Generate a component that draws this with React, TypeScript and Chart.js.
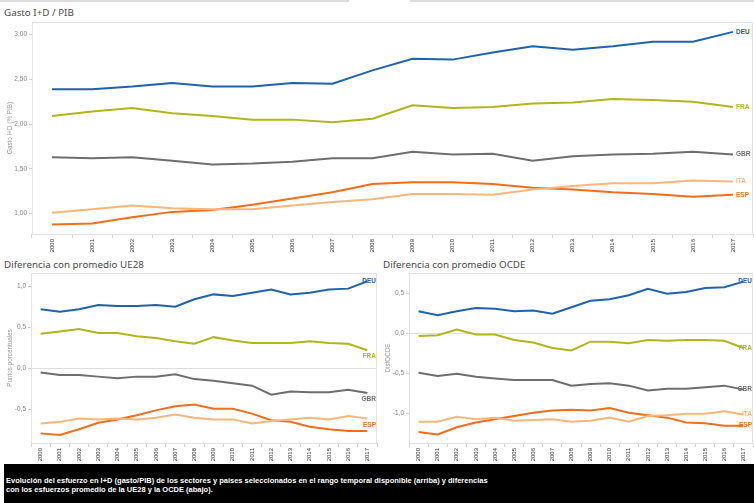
import React, { useEffect, useRef } from "react";
import { Chart, registerables } from "chart.js";

Chart.register(...registerables);

const years = ["2000", "2001", "2002", "2003", "2004", "2005", "2006", "2007", "2008", "2009", "2010", "2011", "2012", "2013", "2014", "2015", "2016", "2017"];

const gastoDEU = [2.39, 2.39, 2.42, 2.46, 2.42, 2.42, 2.46, 2.45, 2.6, 2.73, 2.72, 2.8, 2.87, 2.83, 2.87, 2.92, 2.92, 3.03];
const gastoFRA = [2.09, 2.14, 2.18, 2.12, 2.09, 2.05, 2.05, 2.02, 2.06, 2.21, 2.18, 2.19, 2.23, 2.24, 2.28, 2.27, 2.25, 2.19];
const gastoGBR = [1.63, 1.62, 1.63, 1.59, 1.55, 1.56, 1.58, 1.62, 1.62, 1.69, 1.66, 1.67, 1.59, 1.64, 1.66, 1.67, 1.69, 1.66];
const gastoITA = [1.01, 1.05, 1.09, 1.06, 1.05, 1.05, 1.09, 1.13, 1.16, 1.22, 1.22, 1.21, 1.27, 1.31, 1.34, 1.34, 1.37, 1.36];
const gastoESP = [0.88, 0.89, 0.96, 1.02, 1.04, 1.1, 1.17, 1.24, 1.33, 1.35, 1.35, 1.33, 1.29, 1.27, 1.24, 1.22, 1.19, 1.21];

const ue28DEU = [0.72, 0.69, 0.72, 0.77, 0.76, 0.76, 0.77, 0.75, 0.84, 0.9, 0.88, 0.92, 0.96, 0.9, 0.92, 0.96, 0.97, 1.06];
const ue28FRA = [0.42, 0.45, 0.48, 0.43, 0.43, 0.39, 0.37, 0.33, 0.3, 0.38, 0.34, 0.31, 0.31, 0.31, 0.33, 0.31, 0.3, 0.22];
const ue28GBR = [-0.05, -0.08, -0.08, -0.1, -0.12, -0.1, -0.1, -0.07, -0.13, -0.15, -0.18, -0.21, -0.32, -0.28, -0.29, -0.29, -0.26, -0.3];
const ue28ITA = [-0.67, -0.65, -0.61, -0.62, -0.61, -0.62, -0.6, -0.56, -0.6, -0.62, -0.62, -0.67, -0.64, -0.62, -0.6, -0.62, -0.58, -0.61];
const ue28ESP = [-0.79, -0.81, -0.74, -0.66, -0.62, -0.57, -0.51, -0.46, -0.44, -0.49, -0.49, -0.55, -0.63, -0.65, -0.71, -0.74, -0.76, -0.76];

const ocdeDEU = [0.28, 0.23, 0.28, 0.32, 0.31, 0.28, 0.29, 0.25, 0.33, 0.41, 0.43, 0.48, 0.56, 0.5, 0.52, 0.57, 0.58, 0.65];
const ocdeFRA = [-0.03, -0.02, 0.05, -0.01, -0.01, -0.08, -0.11, -0.18, -0.21, -0.1, -0.1, -0.12, -0.08, -0.09, -0.08, -0.08, -0.09, -0.18];
const ocdeGBR = [-0.49, -0.53, -0.5, -0.54, -0.56, -0.58, -0.58, -0.58, -0.65, -0.63, -0.62, -0.65, -0.71, -0.69, -0.69, -0.67, -0.65, -0.7];
const ocdeITA = [-1.1, -1.1, -1.04, -1.07, -1.05, -1.09, -1.08, -1.07, -1.1, -1.09, -1.05, -1.1, -1.03, -1.02, -1.0, -1.0, -0.97, -1.01];
const ocdeESP = [-1.23, -1.26, -1.17, -1.11, -1.07, -1.03, -0.99, -0.96, -0.95, -0.96, -0.93, -0.99, -1.02, -1.05, -1.11, -1.12, -1.15, -1.15];

const gastoTicks = [1, 1.5, 2, 2.5, 3];
const ue28Ticks = [-0.5, 0, 0.5, 1];
const ocdeTicks = [-1, -0.5, 0, 0.5];

const COLORS: Record<string, string> = {
  DEU: "#1f62ad",
  FRA: "#b3b51d",
  GBR: "#6e6e6e",
  ITA: "#fbb679",
  ESP: "#f26d1c",
};

const TICK_FONT = "'Liberation Sans', Arial, sans-serif";
const TITLE_FONT = "'Noto Sans', 'Open Sans', sans-serif";

function makeSets(deu: number[], fra: number[], gbr: number[], ita: number[], esp: number[]) {
  const rows: [string, number[]][] = [
    ["ITA", ita],
    ["ESP", esp],
    ["GBR", gbr],
    ["FRA", fra],
    ["DEU", deu],
  ];
  return rows.map(([label, data]) => ({
    label,
    data,
    borderColor: COLORS[label],
    backgroundColor: COLORS[label],
    borderWidth: 2,
    pointRadius: 0,
    tension: 0,
    fill: false,
  }));
}

const endLabels = {
  id: "endLabels",
  afterDatasetsDraw(chart: any, _args: any, opts: any) {
    const { ctx, chartArea } = chart;
    ctx.save();
    ctx.font = `bold 6.5px ${TICK_FONT}`;
    ctx.textBaseline = "middle";
    ctx.textAlign = "left";
    chart.data.datasets.forEach((ds: any, i: number) => {
      if (opts.hide && opts.hide.includes(ds.label)) return;
      const meta = chart.getDatasetMeta(i);
      const last = meta.data[meta.data.length - 1];
      if (!last) return;
      const w = ctx.measureText(ds.label).width;
      const x = Math.min(last.x + 3, chartArea.right - w - 1);
      const y = last.y + ((opts.shift && opts.shift[ds.label]) || 0);
      ctx.fillStyle = ds.borderColor;
      ctx.fillText(ds.label, x, y);
    });
    ctx.restore();
  },
};

const frame = {
  id: "frame",
  beforeDatasetsDraw(chart: any) {
    const { ctx, chartArea } = chart;
    ctx.save();
    ctx.strokeStyle = "#e2e2e2";
    ctx.lineWidth = 1;
    ctx.strokeRect(
      Math.round(chartArea.left) + 0.5,
      Math.round(chartArea.top) + 0.5,
      Math.round(chartArea.right - chartArea.left) - 1,
      Math.round(chartArea.bottom - chartArea.top)
    );
    ctx.restore();
  },
};

type Props = {
  left: number;
  top: number;
  width: number;
  height: number;
  axisW: number;
  axisH: number;
  padTop: number;
  padRight: number;
  yMin: number;
  yMax: number;
  ticks: number[];
  decimals: number;
  yTitle: string;
  zeroLine: boolean;
  datasets: any[];
  labelOpts: any;
};

function LineChart(p: Props) {
  const ref = useRef<HTMLCanvasElement | null>(null);
  useEffect(() => {
    if (!ref.current) return;
    const chart = new Chart(ref.current, {
      type: "line",
      data: { labels: years, datasets: p.datasets },
      plugins: [frame, endLabels],
      options: {
        animation: false,
        responsive: false,
        maintainAspectRatio: false,
        layout: { padding: { top: p.padTop, right: p.padRight, left: 0, bottom: 0 } },
        plugins: {
          legend: { display: false },
          tooltip: { enabled: false },
          endLabels: p.labelOpts,
        } as any,
        scales: {
          x: {
            type: "category",
            offset: true,
            border: { display: false },
            grid: {
              offset: true,
              drawOnChartArea: false,
              drawTicks: true,
              tickLength: 4,
              color: "#d4d4d4",
              tickColor: "#d4d4d4",
            },
            ticks: {
              autoSkip: false,
              minRotation: 90,
              maxRotation: 90,
              padding: 1,
              color: "#333",
              font: { family: TICK_FONT, size: 6 },
            },
            afterFit: (s: any) => {
              s.height = p.axisH;
            },
          },
          y: {
            type: "linear",
            min: p.yMin,
            max: p.yMax,
            border: { display: false },
            grid: {
              drawOnChartArea: true,
              drawTicks: true,
              tickLength: 3,
              color: (c: any) => (p.zeroLine && c.tick && c.tick.value === 0 ? "#dedede" : "rgba(0,0,0,0)"),
              tickColor: "#cfcfcf",
              lineWidth: 1,
            },
            ticks: {
              padding: 2,
              color: "#888",
              font: { family: TICK_FONT, size: 6.5 },
              callback: (v: any) => Number(v).toFixed(p.decimals).replace(".", ","),
            },
            afterBuildTicks: (s: any) => {
              s.ticks = p.ticks.map((v) => ({ value: v }));
            },
            afterFit: (s: any) => {
              s.width = p.axisW;
            },
            title: {
              display: true,
              text: p.yTitle,
              color: "#999",
              font: { family: TICK_FONT, size: 6.3 },
              padding: { top: 6, bottom: 0 },
            },
          },
        },
      } as any,
    });
    return () => chart.destroy();
  }, []);
  return (
    <canvas
      ref={ref}
      width={p.width}
      height={p.height}
      style={{ position: "absolute", left: p.left, top: p.top, width: p.width, height: p.height }}
    />
  );
}

const titleStyle: React.CSSProperties = {
  position: "absolute",
  fontFamily: TITLE_FONT,
  fontSize: 9.8,
  lineHeight: "12px",
  color: "#4a4a4a",
  whiteSpace: "nowrap",
};

export default function App() {
  return (
    <div
      style={{
        position: "absolute",
        left: 0,
        top: 0,
        width: 754,
        height: 503,
        background: "#fff",
        overflow: "hidden",
      }}
    >
      <div style={{ position: "absolute", left: 0, top: 0, width: 349, height: 2, background: "#dcdcdc" }} />
      <div style={{ position: "absolute", left: 410, top: 0, width: 344, height: 2, background: "#dcdcdc" }} />
      <div style={{ ...titleStyle, left: 4, top: 7 }}>Gasto I+D / PIB</div>
      <LineChart
        left={0}
        top={16}
        width={754}
        height={238}
        axisW={32}
        axisH={20}
        padTop={6}
        padRight={1}
        yMin={0.773}
        yMax={3.14}
        ticks={gastoTicks}
        decimals={2}
        yTitle="Gasto I+D (% PIB)"
        zeroLine={false}
        datasets={makeSets(gastoDEU, gastoFRA, gastoGBR, gastoITA, gastoESP)}
        labelOpts={{}}
      />
      <div style={{ ...titleStyle, left: 4, top: 259 }}>Diferencia con promedio UE28</div>
      <LineChart
        left={0}
        top={266}
        width={378}
        height={196}
        axisW={31}
        axisH={19}
        padTop={7}
        padRight={1}
        yMin={-0.907}
        yMax={1.16}
        ticks={ue28Ticks}
        decimals={1}
        yTitle="Puntos porcentuales"
        zeroLine={true}
        datasets={makeSets(ue28DEU, ue28FRA, ue28GBR, ue28ITA, ue28ESP)}
        labelOpts={{ hide: ["ITA"], shift: { FRA: 6, GBR: 6, ESP: -6 } }}
      />
      <div style={{ ...titleStyle, left: 383, top: 259 }}>Diferencia con promedio OCDE</div>
      <LineChart
        left={378}
        top={266}
        width={376}
        height={196}
        axisW={31}
        axisH={19}
        padTop={7}
        padRight={1}
        yMin={-1.367}
        yMax={0.758}
        ticks={ocdeTicks}
        decimals={1}
        yTitle="DistOCDE"
        zeroLine={true}
        datasets={makeSets(ocdeDEU, ocdeFRA, ocdeGBR, ocdeITA, ocdeESP)}
        labelOpts={{}}
      />
      <div
        style={{
          position: "absolute",
          left: 4,
          top: 464,
          width: 750,
          height: 39,
          background: "#000",
          color: "#fff",
          fontFamily: TICK_FONT,
          fontWeight: "bold",
          fontSize: 7.5,
          lineHeight: "9px",
          boxSizing: "border-box",
          paddingTop: 12,
          paddingLeft: 2,
          whiteSpace: "nowrap",
        }}
      >
        Evolución del esfuerzo en I+D (gasto/PIB) de los sectores y países seleccionados en el rango temporal disponible (arriba) y diferencias
        <br />
        con los esfuerzos promedio de la UE28 y la OCDE (abajo).
      </div>
    </div>
  );
}
